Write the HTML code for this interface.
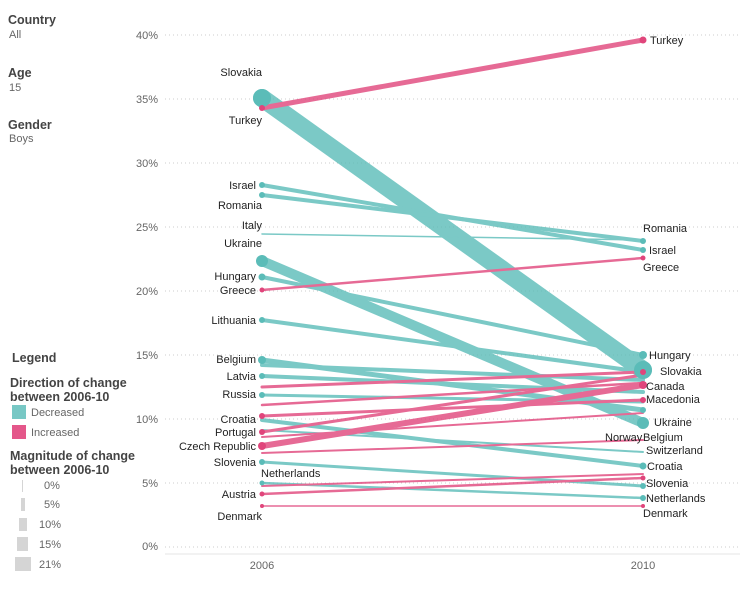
<!DOCTYPE html>
<html><head><meta charset="utf-8"><style>
body{margin:0;background:#fff;font-family:"Liberation Sans",Arial,sans-serif;}
</style></head><body>
<svg width="749" height="585" xmlns="http://www.w3.org/2000/svg" font-family="Liberation Sans, Arial, sans-serif">
<g fill="#444" font-size="12.5">
<text x="8" y="24" font-weight="bold">Country</text><text x="9" y="38" font-size="11" fill="#666">All</text>
<text x="8" y="77" font-weight="bold">Age</text><text x="9" y="91" font-size="11" fill="#666">15</text>
<text x="8" y="129" font-weight="bold">Gender</text><text x="9" y="142" font-size="11" fill="#666">Boys</text>
<text x="12" y="362" font-weight="bold">Legend</text>
<text x="10" y="387" font-weight="bold">Direction of change</text>
<text x="10" y="401" font-weight="bold">between 2006-10</text>
<text x="10" y="460" font-weight="bold">Magnitude of change</text>
<text x="10" y="474" font-weight="bold">between 2006-10</text>
</g>
<rect x="12" y="405" width="14" height="14" fill="#78c8c5"/><rect x="12" y="425" width="14" height="14" fill="#e4578a"/>
<g font-size="11" fill="#666"><text x="31" y="416">Decreased</text><text x="31" y="436">Increased</text>
<text x="44" y="489">0%</text><text x="44" y="508">5%</text><text x="39" y="528">10%</text><text x="39" y="548">15%</text><text x="39" y="568">21%</text></g>
<g fill="#d5d5d5"><rect x="22" y="480" width="1" height="12"/><rect x="21" y="498" width="4" height="13"/><rect x="19" y="518" width="8" height="13"/><rect x="17" y="537" width="11" height="14"/><rect x="15" y="557" width="16" height="14"/></g>
<g stroke="#ccc" stroke-dasharray="1,3">
<line x1="165" y1="35" x2="740" y2="35"/><line x1="165" y1="99" x2="740" y2="99"/><line x1="165" y1="163" x2="740" y2="163"/><line x1="165" y1="227" x2="740" y2="227"/><line x1="165" y1="291" x2="740" y2="291"/><line x1="165" y1="355" x2="740" y2="355"/><line x1="165" y1="419" x2="740" y2="419"/><line x1="165" y1="483" x2="740" y2="483"/><line x1="165" y1="547" x2="740" y2="547"/></g>
<g font-size="11" fill="#666" text-anchor="end"><text x="158" y="39">40%</text><text x="158" y="103">35%</text><text x="158" y="167">30%</text><text x="158" y="231">25%</text><text x="158" y="295">20%</text><text x="158" y="359">15%</text><text x="158" y="423">10%</text><text x="158" y="487">5%</text><text x="158" y="550">0%</text></g>
<line x1="165" y1="554" x2="740" y2="554" stroke="#e5e5e5"/>
<g font-size="11" fill="#666" text-anchor="middle"><text x="262" y="569">2006</text><text x="643" y="569">2010</text></g>
<g stroke-linecap="round" opacity="0.8">
<g stroke="#5bbcb8">
<line x1="262" y1="98" x2="643" y2="370" stroke-width="18"/>
<line x1="262" y1="261" x2="643" y2="423" stroke-width="10"/>
<line x1="262" y1="185" x2="643" y2="250" stroke-width="4"/>
<line x1="262" y1="195" x2="643" y2="241" stroke-width="4"/>
<line x1="262" y1="234" x2="643" y2="240" stroke-width="1.5"/>
<line x1="262" y1="277" x2="643" y2="355" stroke-width="4"/>
<line x1="262" y1="320" x2="643" y2="372" stroke-width="4"/>
<line x1="262" y1="360" x2="643" y2="410" stroke-width="5"/>
<line x1="262" y1="365" x2="643" y2="380" stroke-width="4"/>
<line x1="262" y1="376" x2="643" y2="392" stroke-width="4"/>
<line x1="262" y1="395" x2="643" y2="402" stroke-width="3"/>
<line x1="262" y1="420" x2="643" y2="466" stroke-width="4"/>
<line x1="262" y1="462" x2="643" y2="486" stroke-width="3"/>
<line x1="262" y1="483" x2="643" y2="498" stroke-width="2.5"/>
<line x1="262" y1="430" x2="643" y2="452" stroke-width="2"/>
</g>
<g stroke="#e0457b">
<line x1="262" y1="108" x2="643" y2="40" stroke-width="5"/>
<line x1="262" y1="290" x2="643" y2="258" stroke-width="2.5"/>
<line x1="262" y1="446" x2="643" y2="385" stroke-width="6"/>
<line x1="262" y1="432" x2="643" y2="375" stroke-width="3"/>
<line x1="262" y1="387" x2="643" y2="372" stroke-width="3"/>
<line x1="262" y1="405" x2="643" y2="383" stroke-width="2.5"/>
<line x1="262" y1="416" x2="643" y2="400" stroke-width="3"/>
<line x1="262" y1="453" x2="643" y2="440" stroke-width="2"/>
<line x1="262" y1="494" x2="643" y2="478" stroke-width="2.5"/>
<line x1="262" y1="486" x2="643" y2="474" stroke-width="2"/>
<line x1="262" y1="506" x2="643" y2="506" stroke-width="1.5"/>
<line x1="262" y1="437" x2="643" y2="413" stroke-width="2"/>
</g></g>
<g fill="#5bbcb8"><circle cx="262" cy="98" r="9"/><circle cx="643" cy="370" r="9"/><circle cx="262" cy="261" r="6"/><circle cx="643" cy="423" r="6"/>
<circle cx="262" cy="185" r="3"/><circle cx="262" cy="195" r="3"/><circle cx="262" cy="277" r="3.5"/><circle cx="262" cy="320" r="3"/><circle cx="262" cy="360" r="4"/><circle cx="262" cy="376" r="3"/><circle cx="262" cy="395" r="3"/><circle cx="262" cy="462" r="3"/><circle cx="262" cy="483" r="2.5"/>
<circle cx="643" cy="250" r="3"/><circle cx="643" cy="241" r="3"/><circle cx="643" cy="355" r="4"/><circle cx="643" cy="466" r="3.5"/><circle cx="643" cy="486" r="3"/><circle cx="643" cy="498" r="3"/><circle cx="643" cy="410" r="3"/></g>
<g fill="#e0457b"><circle cx="262" cy="108" r="3"/><circle cx="643" cy="40" r="3.5"/><circle cx="262" cy="290" r="2.5"/><circle cx="643" cy="258" r="2.5"/><circle cx="262" cy="446" r="4"/><circle cx="643" cy="385" r="4"/><circle cx="262" cy="432" r="3"/><circle cx="262" cy="416" r="3"/><circle cx="262" cy="494" r="2.5"/><circle cx="262" cy="506" r="2"/><circle cx="643" cy="506" r="2"/><circle cx="643" cy="478" r="2.5"/><circle cx="643" cy="372" r="3"/><circle cx="643" cy="400" r="3"/></g>
<g font-size="11" fill="#222" text-anchor="end">
<text x="262" y="76">Slovakia</text><text x="262" y="124">Turkey</text><text x="256" y="189">Israel</text><text x="262" y="209">Romania</text><text x="262" y="229">Italy</text><text x="262" y="247">Ukraine</text><text x="256" y="280">Hungary</text><text x="256" y="294">Greece</text><text x="256" y="324">Lithuania</text><text x="256" y="363">Belgium</text><text x="256" y="380">Latvia</text><text x="256" y="398">Russia</text><text x="256" y="423">Croatia</text><text x="256" y="436">Portugal</text><text x="256" y="450">Czech Republic</text><text x="256" y="466">Slovenia</text><text x="262" y="520">Denmark</text><text x="256" y="498">Austria</text></g>
<g font-size="11" fill="#222"><text x="261" y="477">Netherlands</text>
<text x="650" y="44">Turkey</text><text x="643" y="232">Romania</text><text x="649" y="254">Israel</text><text x="643" y="271">Greece</text><text x="649" y="359">Hungary</text><text x="660" y="375">Slovakia</text><text x="646" y="390">Canada</text><text x="646" y="403">Macedonia</text><text x="654" y="426">Ukraine</text><text x="605" y="441">Norway</text><text x="643" y="441">Belgium</text><text x="646" y="454">Switzerland</text><text x="647" y="470">Croatia</text><text x="646" y="487">Slovenia</text><text x="646" y="502">Netherlands</text><text x="643" y="517">Denmark</text></g>
</svg>
</body></html>
